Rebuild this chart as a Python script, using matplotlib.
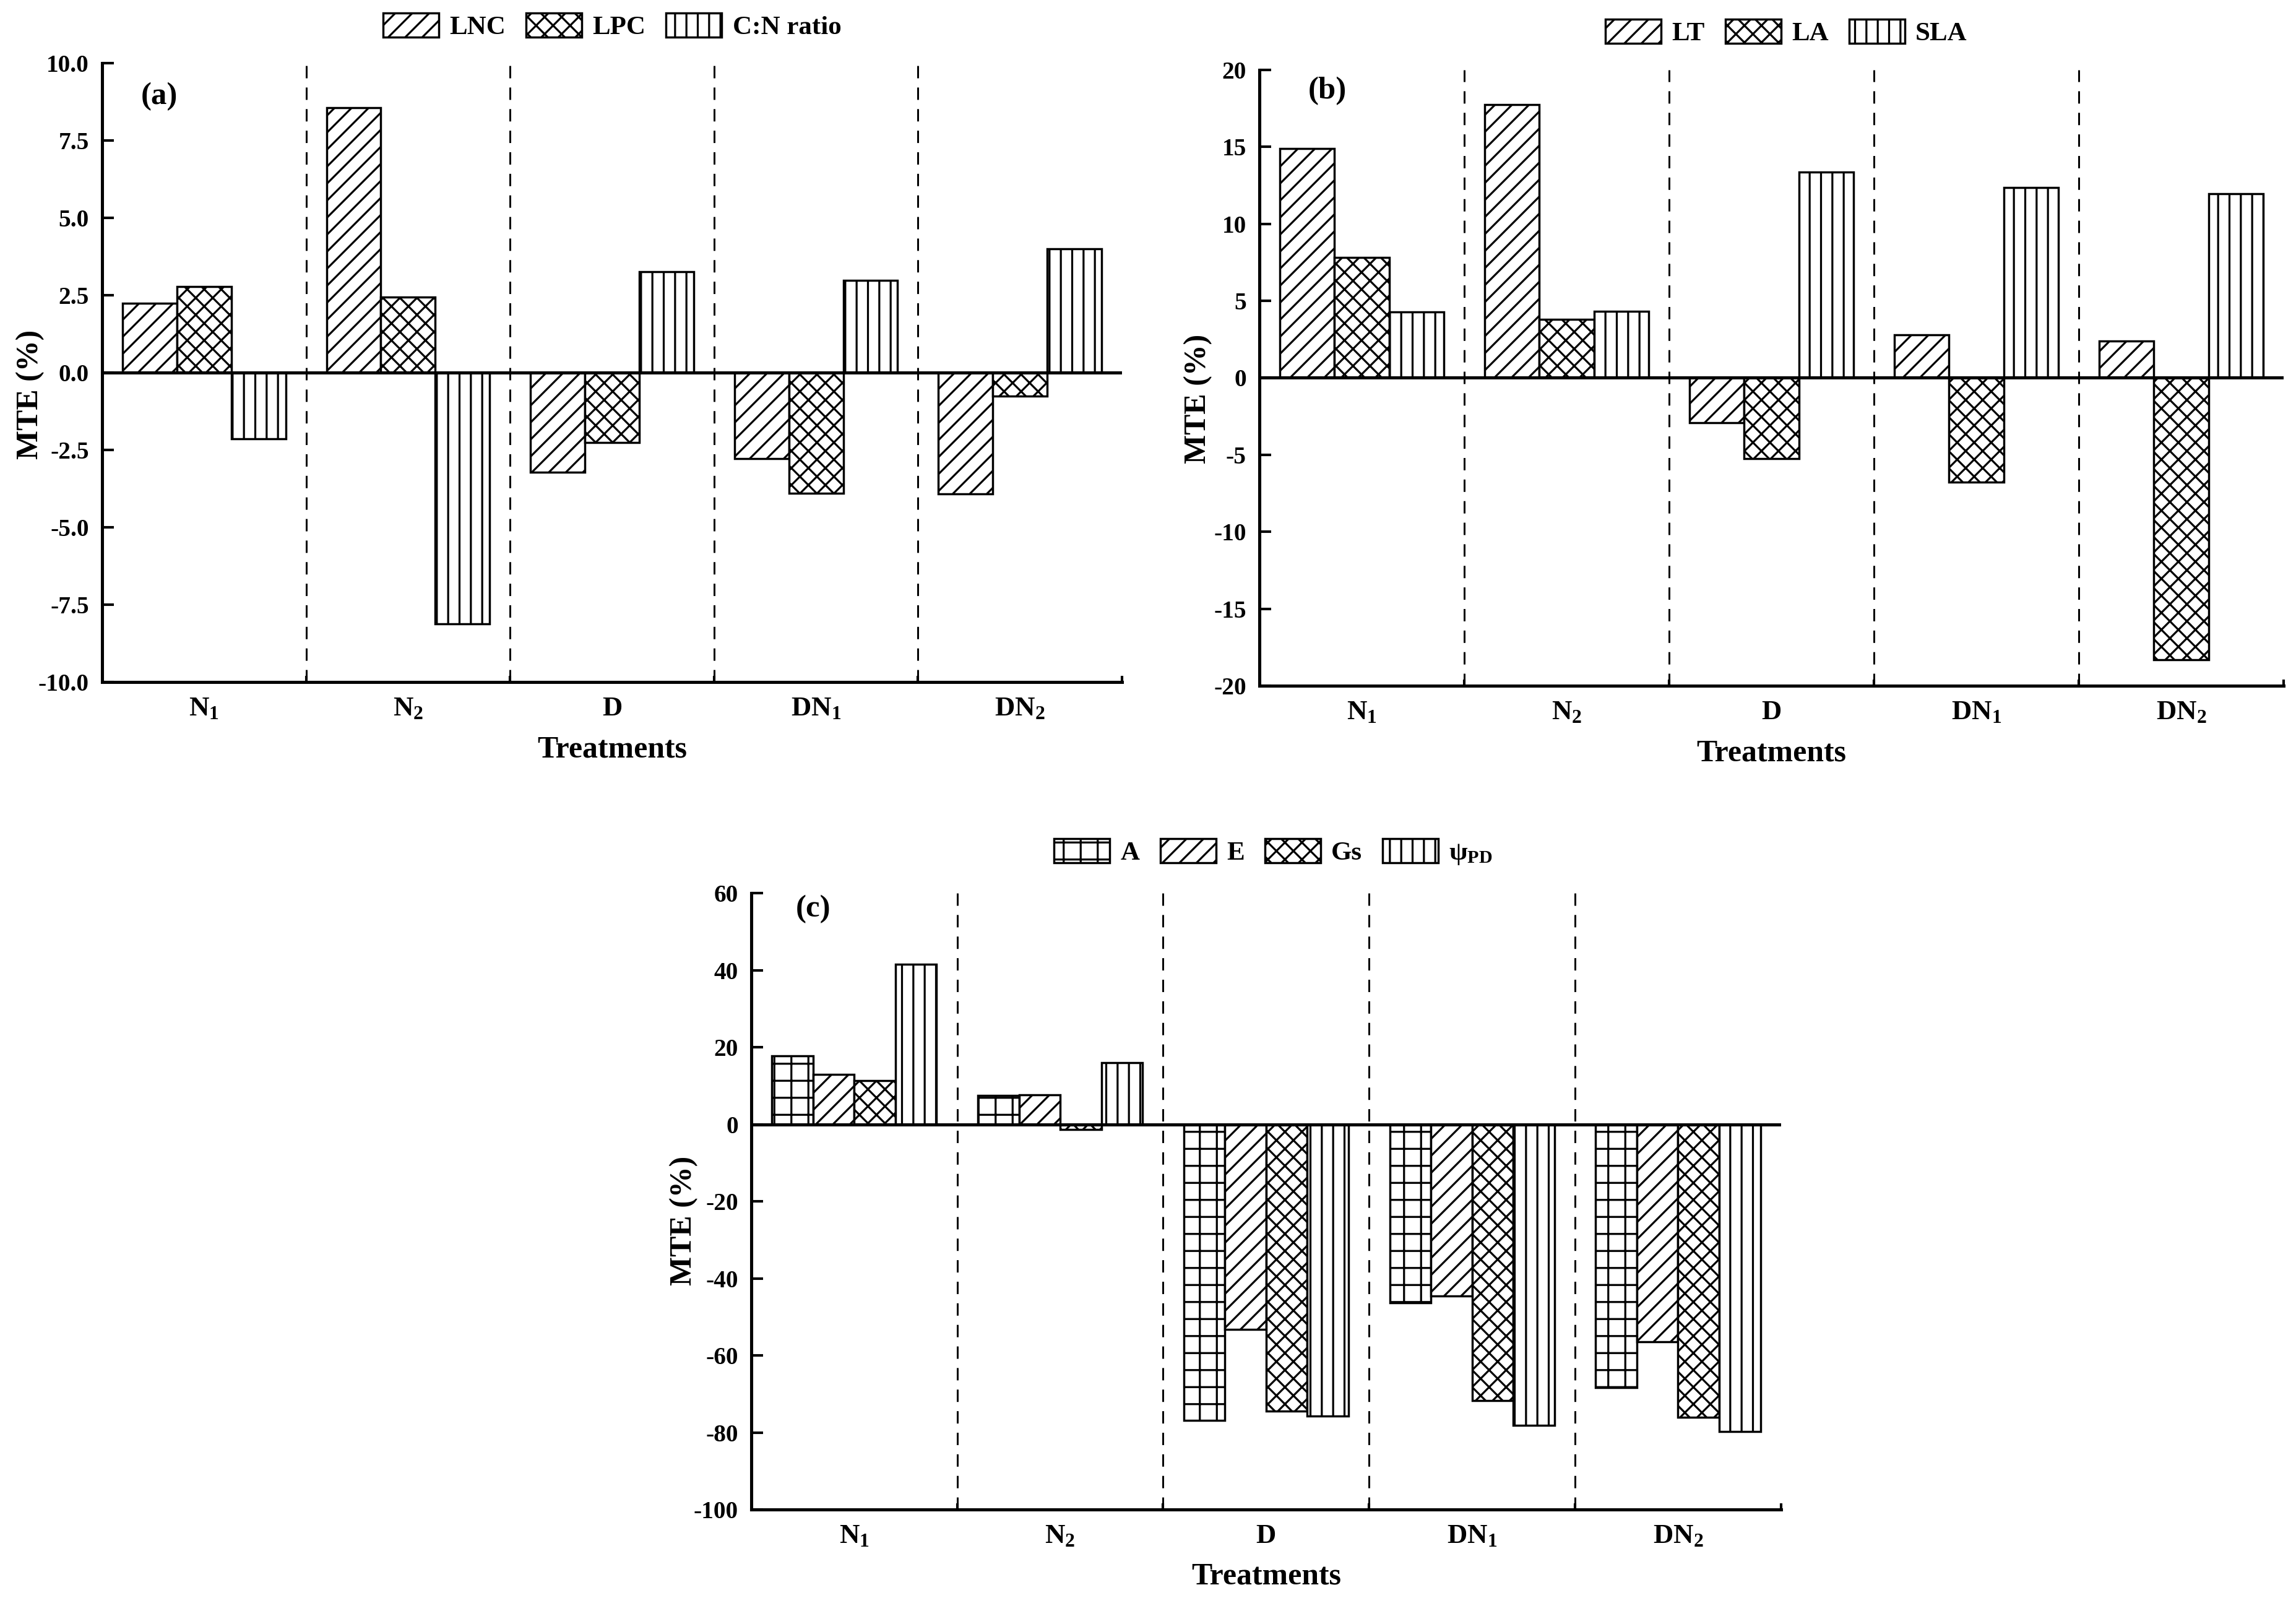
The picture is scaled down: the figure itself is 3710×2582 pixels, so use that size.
import matplotlib
matplotlib.use("Agg")
import matplotlib.pyplot as plt
import numpy as np

plt.rcParams['font.family'] = ['Liberation Serif', 'DejaVu Serif']
plt.rcParams['font.weight'] = 'bold'
plt.rcParams['mathtext.fontset'] = 'custom'
plt.rcParams['mathtext.rm'] = 'Liberation Serif:bold'
plt.rcParams['mathtext.it'] = 'Liberation Serif:bold'
plt.rcParams['mathtext.bf'] = 'Liberation Serif:bold'
plt.rcParams['axes.unicode_minus'] = False
plt.rcParams['hatch.linewidth'] = 0.7
plt.rcParams['hatch.color'] = 'black'

# ---------------- data ----------------
treatments = ['N$_1$', 'N$_2$', 'D', 'DN$_1$', 'DN$_2$']

# panel (a)
a_labels = ['LNC', 'LPC', 'C:N ratio']
a_LNC = [2.23, 8.56, -3.22, -2.78, -3.93]
a_LPC = [2.78, 2.44, -2.26, -3.91, -0.76]
a_CN = [-2.15, -8.12, 3.25, 2.97, 4.00]

# panel (b)
b_labels = ['LT', 'LA', 'SLA']
b_LT = [14.9, 17.76, -2.92, 2.79, 2.40]
b_LA = [7.82, 3.78, -5.26, -6.79, -18.3]
b_SLA = [4.26, 4.33, 13.37, 12.34, 11.96]

# panel (c)
c_labels = ['A', 'E', 'Gs', 'ψ$_{\\mathrm{PD}}$']
c_A = [17.7, 7.5, -76.8, -46.3, -68.3]
c_E = [13.0, 7.7, -53.2, -44.6, -56.5]
c_Gs = [11.3, -1.4, -74.4, -71.7, -76.0]
c_PSI = [41.5, 16.0, -75.7, -78.1, -79.8]

a_ticks = [-10.0, -7.5, -5.0, -2.5, 0.0, 2.5, 5.0, 7.5, 10.0]
b_ticks = [-20, -15, -10, -5, 0, 5, 10, 15, 20]
c_ticks = [-100, -80, -60, -40, -20, 0, 20, 40, 60]

# ---------------- figure ----------------
DPI = 330
fig = plt.figure(figsize=(3710 / DPI, 2582 / DPI), dpi=DPI)

TICK_FS = 8.6
CAT_FS = 9.8
LAB_FS = 10.9
LEG_FS = 9.4
LET_FS = 11.1


def panel(rect, series, labels, hatches, ticks, ylim, fmt, letter, letter_pos,
          ylab_pos, xlab_y, leg_pos):
    ax = fig.add_axes(rect)
    n = len(series)
    w = 0.8 / n
    x = np.arange(len(treatments))
    for j, (vals, lab, h) in enumerate(zip(series, labels, hatches)):
        ax.bar(x + (j - (n - 1) / 2) * w, vals, width=w, facecolor='white',
               edgecolor='black', linewidth=0.75, hatch=h, label=lab, zorder=2)
    ax.axhline(0, color='black', lw=1.1, zorder=3)
    for s in np.arange(0.5, len(treatments) - 1, 1.0):
        ax.axvline(s, color='black', lw=0.65, ls=(0, (6.7, 5.0)), zorder=1)
    ax.set_xlim(-0.5, len(treatments) - 0.5)
    ax.set_ylim(*ylim)
    ax.set_yticks(ticks)
    ax.set_yticklabels([fmt.format(t) for t in ticks])
    ax.spines['top'].set_visible(False)
    ax.spines['right'].set_visible(False)
    for sp in ('left', 'bottom'):
        ax.spines[sp].set_linewidth(1.1)
    ax.tick_params(axis='y', direction='in', length=4.2, width=0.9,
                   pad=4.6, labelsize=TICK_FS)
    ax.set_xticks(np.arange(0.5, len(treatments), 1.0))
    ax.set_xticklabels([])
    ax.tick_params(axis='x', which='major', direction='in', length=2.2, width=0.9)
    ax.set_xticks(x, minor=True)
    ax.set_xticklabels(treatments, minor=True)
    ax.tick_params(axis='x', which='minor', length=0, pad=5.0, labelsize=CAT_FS)
    ax.set_ylabel('MTE (%)', fontsize=LAB_FS, fontweight='bold')
    ax.yaxis.set_label_coords(*ylab_pos)
    ax.yaxis.label.set_va('center')
    ax.set_xlabel('Treatments', fontsize=LAB_FS, fontweight='bold')
    ax.xaxis.set_label_coords(0.5, xlab_y)
    ax.xaxis.label.set_va('center')
    ax.text(letter_pos[0], letter_pos[1], letter, transform=ax.transAxes,
            ha='center', va='center', fontsize=LET_FS, fontweight='bold')
    ax.legend(loc='lower center', bbox_to_anchor=leg_pos, ncol=n, frameon=False,
              fontsize=LEG_FS, handlelength=2.09, handleheight=1.02,
              handletextpad=0.4, columnspacing=0.77, borderpad=0,
              borderaxespad=0)
    return ax


panel([0.04447, 0.5732, 0.4442, 0.3873], [a_LNC, a_LPC, a_CN], a_labels,
      ['////', 'xxxx', '|||'], a_ticks, (-10, 10), '{:.1f}', '(a)', (0.0558, 0.946),
      (-0.0704, 0.465), -0.11, (0.5, 1.038))

panel([0.5485, 0.5709, 0.4461, 0.3854], [b_LT, b_LA, b_SLA], b_labels,
      ['////', 'xxxx', '|||'], b_ticks, (-20, 20), '{:d}', '(b)', (0.0665, 0.966),
      (-0.0598, 0.466), -0.1106, (0.5145, 1.039))

panel([0.3272, 0.05538, 0.4485, 0.3857], [c_A, c_E, c_Gs, c_PSI], c_labels,
      ['++', '////', 'xxxx', '|||'], c_ticks, (-100, 60), '{:d}', '(c)', (0.060, 0.974),
      (-0.0655, 0.469), -0.109, (0.507, 1.043))

fig.savefig('out.png', dpi=DPI)
